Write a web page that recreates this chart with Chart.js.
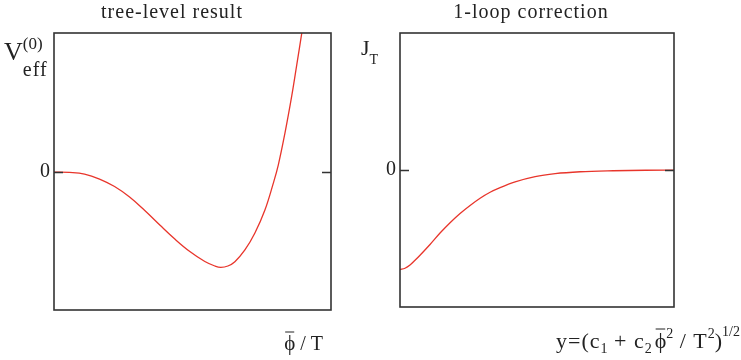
<!DOCTYPE html>
<html>
<head>
<meta charset="utf-8">
<script src="https://cdn.jsdelivr.net/npm/chart.js@4.4.1/dist/chart.umd.min.js"></script>
<style>
  html, body { margin: 0; padding: 0; background: #fff; }
  #wrap { position: relative; width: 741px; height: 360px; }
  canvas { position: absolute; top: 0; }
</style>
</head>
<body>
<div id="wrap">
  <canvas id="tree" width="370" height="360" style="left:0"></canvas>
  <canvas id="loop" width="401" height="360" style="left:340px"></canvas>
</div>
<script>
// ---- tree-level potential, V_eff^(0) vs phi/T (minimum normalised to (1,-1))
const treePhi = [0, 0.093, 0.183, 0.273, 0.363, 0.453, 0.544, 0.634, 0.724, 0.814, 0.904, 0.964, 1.0, 1.042, 1.084, 1.144, 1.204, 1.264, 1.314, 1.344, 1.384, 1.425, 1.455, 1.485];
const treeV   = [0, -0.004, -0.021, -0.073, -0.152, -0.262, -0.404, -0.556, -0.703, -0.834, -0.939, -0.986, -1.0, -0.986, -0.941, -0.818, -0.64, -0.399, -0.119, 0.073, 0.409, 0.802, 1.128, 1.46];

// ---- 1-loop thermal function J_T vs y
const loopY = [0, 0.05, 0.1, 0.15, 0.2, 0.3, 0.4, 0.5, 0.6, 0.7, 0.8, 0.9, 1.0, 1.15, 1.35, 1.55, 1.8, 2.13, 2.45, 2.74];
const loopJ = [-1.0, -0.987, -0.955, -0.907, -0.856, -0.748, -0.633, -0.529, -0.436, -0.355, -0.282, -0.222, -0.176, -0.118, -0.065, -0.035, -0.016, -0.006, -0.001, 0];

const zeroTicks = [0];

const INK  = "#222";
const RED  = "#e8352b";
const SERIF = "'Liberation Serif', 'DejaVu Serif', serif";

function font(size) { return `${size}px ${SERIF}`; }

// draw a row of text runs (with sub/superscripts, optional overbar), right-aligned at xRight
function drawRuns(ctx, runs, xRight, base) {
  const setFont = r => { ctx.font = font(r.s); ctx.letterSpacing = (r.ls || 0) + "px"; };
  let total = 0;
  runs.forEach(r => { setFont(r); total += ctx.measureText(r.t).width + (r.gap || 0); });
  let x = xRight - total;
  ctx.textAlign = "left";
  ctx.textBaseline = "alphabetic";
  runs.forEach(r => {
    setFont(r);
    const w = ctx.measureText(r.t).width;
    ctx.fillText(r.t, x, base + (r.dy || 0));
    if (r.bar) {
      ctx.beginPath();
      ctx.lineWidth = 1;
      ctx.moveTo(x + 1, base - r.bar);
      ctx.lineTo(x + w - 1, base - r.bar);
      ctx.stroke();
    }
    x += w + (r.gap || 0);
  });
  ctx.letterSpacing = "0px";
}

function title(ctx, text, cx) {
  ctx.font = font(20);
  ctx.letterSpacing = "1px";
  ctx.textAlign = "center";
  ctx.fillText(text, cx, 18);
  ctx.letterSpacing = "0px";
}

// box frame plus inward ticks at zero on both sides
const framePlugin = {
  id: "frame",
  afterDatasetsDraw(chart) {
    const { ctx, chartArea: a, scales } = chart;
    const y0 = Math.round(scales.y.getPixelForValue(0)) + 0.5;
    ctx.save();
    ctx.strokeStyle = "#333";
    ctx.lineWidth = 1.6;
    ctx.strokeRect(a.left, a.top, a.right - a.left, a.bottom - a.top);
    ctx.beginPath();
    ctx.moveTo(a.left, y0);  ctx.lineTo(a.left + 9, y0);
    ctx.moveTo(a.right - 9, y0); ctx.lineTo(a.right, y0);
    ctx.stroke();
    ctx.restore();
  }
};

function makeChart(id, xs, ys, curve, xMax, yMin, yMax, padding, axisWidth, textPlugin) {
  return new Chart(document.getElementById(id), {
    type: "line",
    data: {
      datasets: [{
        data: xs.map((x, i) => ({ x, y: ys[i] })),
        borderColor: RED,
        borderWidth: 1.3,
        pointRadius: 0,
        tension: 0.4,
        cubicInterpolationMode: curve,
        fill: false,
      }],
    },
    options: {
      responsive: false,
      animation: false,
      layout: { padding },
      plugins: { legend: { display: false }, tooltip: { enabled: false } },
      scales: {
        x: { type: "linear", min: 0, max: xMax, display: false },
        y: {
          type: "linear",
          min: yMin,
          max: yMax,
          afterBuildTicks: s => { s.ticks = zeroTicks.map(v => ({ value: v })); },
          afterFit: s => { s.width = axisWidth; },
          ticks: { color: INK, font: { family: SERIF, size: 20 }, padding: 4, callback: v => String(v) },
          grid: { display: false, drawTicks: false },
          border: { display: false },
        },
      },
    },
    plugins: [framePlugin, textPlugin],
  });
}

makeChart("tree", treePhi, treeV, "default", 1.66, -1.448, 1.46,
  { left: 0, top: 33, right: 39, bottom: 50 }, 54,
  {
    id: "treeText",
    afterDraw(chart) {
      const ctx = chart.ctx;
      ctx.save();
      ctx.fillStyle = INK;
      ctx.strokeStyle = INK;
      ctx.textBaseline = "alphabetic";
      title(ctx, "tree-level result", 172);
      // V_eff^(0)
      ctx.textAlign = "left";
      ctx.font = font(26);
      ctx.fillText("V", 4, 60);
      const vw = ctx.measureText("V").width;
      ctx.font = font(17);
      ctx.fillText("(0)", 4 + vw, 49);
      ctx.font = font(20);
      ctx.letterSpacing = "1px";
      ctx.fillText("eff", 4 + vw, 76);
      ctx.letterSpacing = "0px";
      drawRuns(ctx, [
        { t: "ϕ", s: 21, bar: 18 },
        { t: " / T", s: 20 },
      ], 323, 350);
      ctx.restore();
    }
  });

makeChart("loop", loopY, loopJ, "monotone", 2.737, -1.377, 1.38,
  { left: 0, top: 33, right: 67, bottom: 53 }, 60,
  {
    id: "loopText",
    afterDraw(chart) {
      const ctx = chart.ctx;
      ctx.save();
      ctx.fillStyle = INK;
      ctx.strokeStyle = INK;
      ctx.textBaseline = "alphabetic";
      title(ctx, "1-loop correction", 191);
      // J_T
      ctx.textAlign = "left";
      ctx.font = font(22);
      ctx.fillText("J", 21, 55);
      const jw = ctx.measureText("J").width;
      ctx.font = font(14);
      ctx.fillText("T", 21 + jw, 64);
      drawRuns(ctx, [
        { t: "y=(c", s: 22, ls: 1 },
        { t: "1", s: 14, dy: 5 },
        { t: " + c", s: 22, ls: 1 },
        { t: "2", s: 14, dy: 5, gap: 3 },
        { t: "ϕ", s: 22, bar: 19 },
        { t: "2", s: 14, dy: -10 },
        { t: " / T", s: 22, ls: 1 },
        { t: "2", s: 14, dy: -10 },
        { t: ")", s: 22 },
        { t: "1/2", s: 14, dy: -12 },
      ], 400, 348);
      ctx.restore();
    }
  });
</script>
</body>
</html>
